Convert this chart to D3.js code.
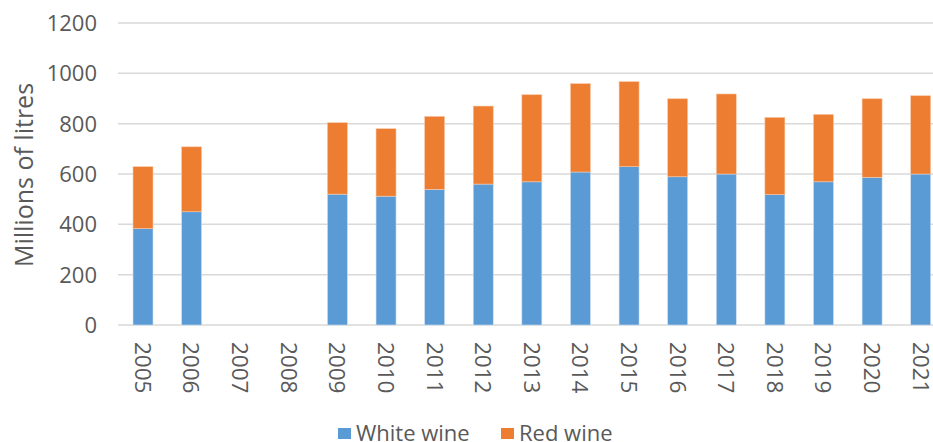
<!DOCTYPE html>
<html><head><meta charset="utf-8">
<script src="https://cdn.jsdelivr.net/npm/d3@7"></script>
<style>body{margin:0;background:#fff}svg{display:block}text{font-family:"Open Sans",sans-serif;fill:#595959}</style>
</head><body>
<svg id="c" width="933" height="442"></svg>
<script>
const years = ["2005","2006","2007","2008","2009","2010","2011","2012","2013","2014","2015","2016","2017","2018","2019","2020","2021"];
const whiteWine = [383,450,null,null,520,512,539,560,569,608,629,589,600,518,569,587,600];
const redWine = [246,258,null,null,284,268,290,310,346,351,338,310,318,307,268,312,311];
const yTicks = [0,200,400,600,800,1000,1200];
const seriesNames = ["White wine","Red wine"];
const colors = ["#5b9bd5","#ed7d31"];

const svg = d3.select("#c");
const x = d3.scaleBand().domain(years).range([118.7,945]).paddingInner(0.6).paddingOuter(0.3);
const y = d3.scaleLinear().domain([0,1200]).range([325,23]);

svg.append("g").selectAll("line").data(yTicks).join("line")
  .attr("x1",118).attr("x2",933).attr("y1",d=>y(d)).attr("y2",d=>y(d))
  .attr("stroke","#d9d9d9").attr("stroke-width",1.5);
svg.append("g").selectAll("text").data(yTicks).join("text")
  .attr("x",97).attr("y",d=>y(d)).attr("dy","0.36em").attr("text-anchor","end")
  .style("font-size","22px").text(d=>d);

svg.append("text").attr("transform","translate(33,175) rotate(-90)")
  .attr("text-anchor","middle").style("font-size","25px").text("Millions of litres");

const rows = years.map((yr,i)=>({yr,w:whiteWine[i],r:redWine[i]})).filter(d=>d.w!=null);
const bw = 20;
svg.append("g").selectAll("rect").data(rows).join("rect")
  .attr("x",d=>x(d.yr)+x.bandwidth()/2-bw/2).attr("width",bw)
  .attr("y",d=>y(d.w)).attr("height",d=>y(0)-y(d.w))
  .attr("fill",colors[0]).attr("stroke","#cfe0f2").attr("stroke-width",0.6);
svg.append("g").selectAll("rect").data(rows).join("rect")
  .attr("x",d=>x(d.yr)+x.bandwidth()/2-bw/2).attr("width",bw)
  .attr("y",d=>y(d.w+d.r)).attr("height",d=>y(d.w)-y(d.w+d.r))
  .attr("fill",colors[1]).attr("stroke","#f8c9a8").attr("stroke-width",0.6);

svg.append("g").selectAll("text").data(years).join("text")
  .attr("transform",d=>`translate(${x(d)+x.bandwidth()/2},342) rotate(90)`)
  .attr("dy","0.36em").attr("text-anchor","start").style("font-size","22.5px").text(d=>d);

const leg = svg.append("g");
const lx = [338,501];
seriesNames.forEach((n,i)=>{
  leg.append("rect").attr("x",lx[i]).attr("y",428).attr("width",13).attr("height",11).attr("fill",colors[i]);
  leg.append("text").attr("x",lx[i]+18).attr("y",441).style("font-size","22px").text(n);
});
</script>
</body></html>
